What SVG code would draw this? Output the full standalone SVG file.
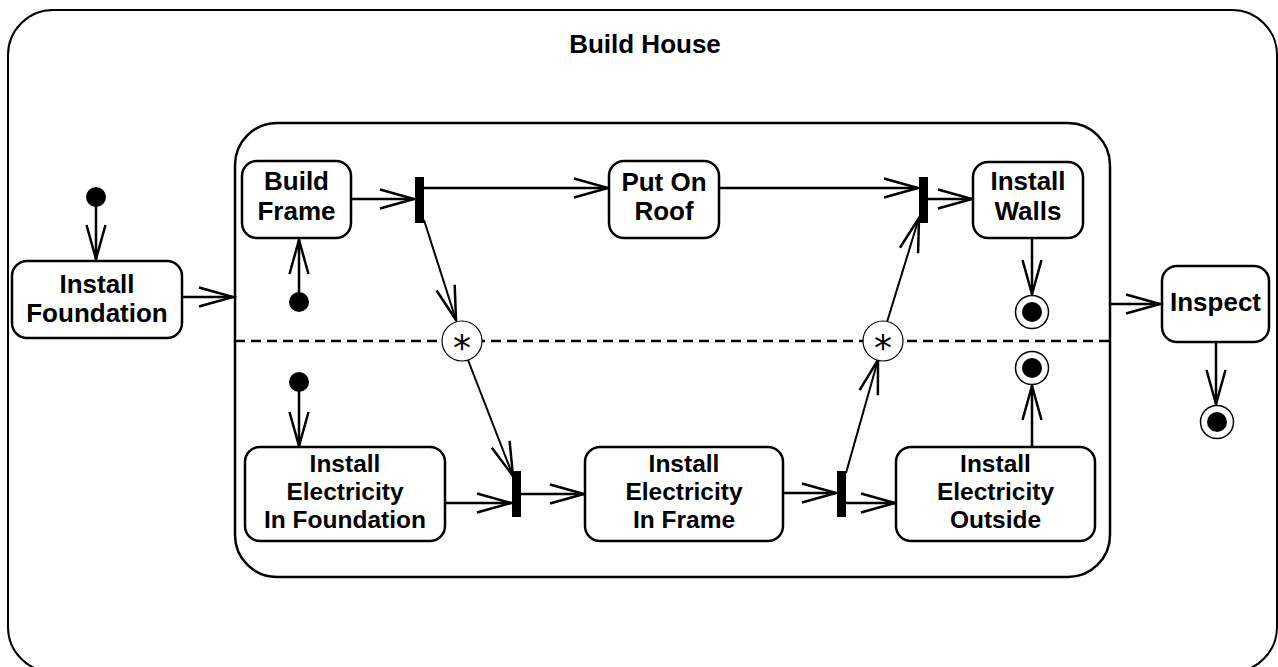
<svg xmlns="http://www.w3.org/2000/svg" width="1278" height="667" viewBox="0 0 1278 667">
<style>
.node{fill:#fff;stroke:#000;stroke-width:2.5}
.lbl{font-family:"Liberation Sans",Arial,sans-serif;font-weight:bold;font-size:26px;text-anchor:middle;fill:#000}
.lbl3{font-family:"Liberation Sans",Arial,sans-serif;font-weight:bold;font-size:24.5px;text-anchor:middle;fill:#000}
.c{fill:none;stroke:#000;stroke-width:2.5}
.d{fill:none;stroke:#000;stroke-width:2}
.bar{fill:#000}
.star{fill:#fff;stroke:#000;stroke-width:1.2}
.st{font-family:"DejaVu Sans","Liberation Sans",sans-serif;font-size:36px;text-anchor:middle;fill:#000}
</style>
<defs>
<marker id="a" markerUnits="userSpaceOnUse" markerWidth="40" markerHeight="24" viewBox="-36 -12 40 24" refX="0" refY="0" orient="auto" overflow="visible">
<path d="M-34,-9.5 L0,0 L-34,9.5" fill="none" stroke="#000" stroke-width="2.5"/>
</marker>
</defs>
<rect width="1278" height="667" fill="#fff"/>
<g id="outer">
<rect x="8" y="10" width="1269" height="662" rx="45" ry="45" fill="none" stroke="#000" stroke-width="2"/>
<text class="lbl" x="645" y="53">Build House</text>
</g>
<g id="build-house-inner">
<rect x="235" y="123" width="875" height="454" rx="42" ry="42" fill="none" stroke="#000" stroke-width="2.5"/>
<line x1="235" y1="341" x2="1110" y2="341" stroke="#000" stroke-width="2.5" stroke-dasharray="10,6"/>
</g>
<g id="connectors">
<line class="c" x1="96" y1="205" x2="96" y2="259" marker-end="url(#a)"/>
<line class="c" x1="182" y1="297" x2="233" y2="297" marker-end="url(#a)"/>
<line class="c" x1="299" y1="295" x2="299" y2="240" marker-end="url(#a)"/>
<line class="c" x1="351" y1="199" x2="414" y2="199" marker-end="url(#a)"/>
<line class="c" x1="424" y1="188" x2="608" y2="188" marker-end="url(#a)"/>
<line class="d" x1="424" y1="220" x2="456" y2="320" marker-end="url(#a)"/>
<line class="d" x1="468" y1="360" x2="513" y2="476" marker-end="url(#a)"/>
<line class="c" x1="299" y1="390" x2="299" y2="446" marker-end="url(#a)"/>
<line class="c" x1="445" y1="503" x2="511" y2="503" marker-end="url(#a)"/>
<line class="c" x1="521" y1="494" x2="584" y2="494" marker-end="url(#a)"/>
<line class="c" x1="783" y1="493" x2="836" y2="493" marker-end="url(#a)"/>
<line class="c" x1="846" y1="503" x2="895" y2="503" marker-end="url(#a)"/>
<line class="d" x1="846" y1="473" x2="878" y2="360" marker-end="url(#a)"/>
<line class="d" x1="887" y1="322" x2="919" y2="218" marker-end="url(#a)"/>
<line class="c" x1="719" y1="188" x2="918" y2="188" marker-end="url(#a)"/>
<line class="c" x1="928" y1="199" x2="972" y2="199" marker-end="url(#a)"/>
<line class="c" x1="1032" y1="238" x2="1032" y2="294" marker-end="url(#a)"/>
<line class="c" x1="1032" y1="447" x2="1032" y2="386" marker-end="url(#a)"/>
<line class="c" x1="1110" y1="304" x2="1160" y2="304" marker-end="url(#a)"/>
<line class="c" x1="1216" y1="342" x2="1216" y2="404" marker-end="url(#a)"/>
</g>
<g id="init-1"><circle cx="96" cy="197" r="10" fill="#000"/></g>
<g id="install-foundation">
<rect class="node" x="12" y="261" width="170" height="77" rx="15"/>
<text class="lbl" x="97" y="293">Install</text>
<text class="lbl" x="97" y="322">Foundation</text>
</g>
<g id="init-2"><circle cx="299" cy="302" r="10" fill="#000"/></g>
<g id="build-frame">
<rect class="node" x="242" y="161" width="109" height="77" rx="15"/>
<text class="lbl" x="296.5" y="190">Build</text>
<text class="lbl" x="296.5" y="220">Frame</text>
</g>
<g id="fork-1"><rect class="bar" x="415" y="177" width="9" height="46"/></g>
<g id="put-on-roof">
<rect class="node" x="609" y="161" width="110" height="77" rx="15"/>
<text class="lbl" x="664" y="191">Put On</text>
<text class="lbl" x="664" y="220">Roof</text>
</g>
<g id="join-1"><rect class="bar" x="919" y="177" width="9" height="46"/></g>
<g id="install-walls">
<rect class="node" x="973" y="162" width="110" height="76" rx="15"/>
<text class="lbl" x="1028" y="190">Install</text>
<text class="lbl" x="1028" y="220">Walls</text>
</g>
<g id="final-1">
<circle cx="1032" cy="312" r="16.5" fill="#fff" stroke="#000" stroke-width="1.5"/>
<circle cx="1032" cy="312" r="10" fill="#000"/>
</g>
<g id="sync-1">
<circle class="star" cx="462" cy="341" r="20"/>
<text class="st" x="462" y="360">*</text>
</g>
<g id="sync-2">
<circle class="star" cx="883" cy="341" r="20"/>
<text class="st" x="883" y="360">*</text>
</g>
<g id="init-3"><circle cx="299" cy="382" r="10" fill="#000"/></g>
<g id="install-electricity-in-foundation">
<rect class="node" x="245" y="447" width="200" height="94" rx="15"/>
<text class="lbl3" x="345" y="472">Install</text>
<text class="lbl3" x="345" y="500">Electricity</text>
<text class="lbl3" x="345" y="528">In Foundation</text>
</g>
<g id="join-2"><rect class="bar" x="512" y="471" width="9" height="46"/></g>
<g id="install-electricity-in-frame">
<rect class="node" x="585" y="447" width="198" height="94" rx="15"/>
<text class="lbl3" x="684" y="472">Install</text>
<text class="lbl3" x="684" y="500">Electricity</text>
<text class="lbl3" x="684" y="528">In Frame</text>
</g>
<g id="fork-2"><rect class="bar" x="837" y="471" width="9" height="46"/></g>
<g id="install-electricity-outside">
<rect class="node" x="896" y="447" width="199" height="94" rx="15"/>
<text class="lbl3" x="995.5" y="472">Install</text>
<text class="lbl3" x="995.5" y="500">Electricity</text>
<text class="lbl3" x="995.5" y="528">Outside</text>
</g>
<g id="final-2">
<circle cx="1032" cy="368" r="16.5" fill="#fff" stroke="#000" stroke-width="1.5"/>
<circle cx="1032" cy="368" r="10" fill="#000"/>
</g>
<g id="inspect">
<rect class="node" x="1162" y="266" width="107" height="76" rx="15"/>
<text class="lbl" x="1215.5" y="311">Inspect</text>
</g>
<g id="final-3">
<circle cx="1217" cy="422" r="16.5" fill="#fff" stroke="#000" stroke-width="1.5"/>
<circle cx="1217" cy="422" r="10" fill="#000"/>
</g>
</svg>
